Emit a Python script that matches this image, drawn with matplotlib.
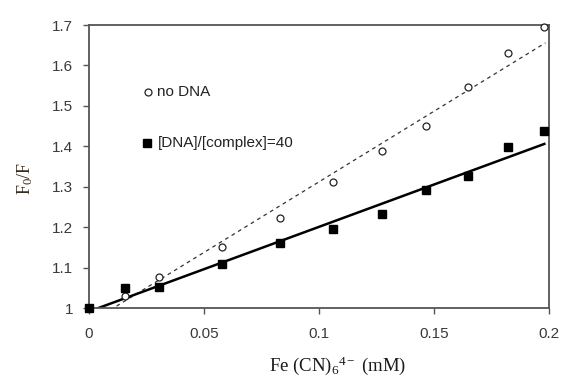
import matplotlib.pyplot as plt

plt.rcParams['mathtext.fontset'] = 'custom'
plt.rcParams['mathtext.rm'] = 'Liberation Serif'
plt.rcParams['mathtext.it'] = 'Liberation Serif:italic'

# data
conc = [0, 0.0156, 0.0303, 0.0580, 0.0830, 0.1062, 0.1274, 0.1467, 0.1646, 0.1821, 0.1978]
no_dna = [1.0, 1.030, 1.078, 1.151, 1.224, 1.312, 1.389, 1.451, 1.546, 1.630, 1.694]
with_dna = [1.0, 1.051, 1.052, 1.110, 1.161, 1.195, 1.232, 1.291, 1.327, 1.398, 1.437]

# fitted lines (end points)
fit_no_x = [0.012, 0.1985]
fit_no_y = [1.005, 1.656]
fit_dna_x = [0.004, 0.198]
fit_dna_y = [1.0, 1.406]

xticks = [0, 0.05, 0.1, 0.15, 0.2]
xtick_labels = ['0', '0.05', '0.1', '0.15', '0.2']
yticks = [1, 1.1, 1.2, 1.3, 1.4, 1.5, 1.6, 1.7]
ytick_labels = ['1', '1.1', '1.2', '1.3', '1.4', '1.5', '1.6', '1.7']

fig = plt.figure(figsize=(5.63, 3.79), dpi=100)
ax = fig.add_axes([0.158, 0.187, 0.817, 0.747])

ax.plot(fit_no_x, fit_no_y, color='#333333', linestyle=(0, (3, 3)), linewidth=0.9)
ax.plot(fit_dna_x, fit_dna_y, color='black', linewidth=1.8)
ax.plot(conc, no_dna, linestyle='none', marker='o', markersize=5,
        markerfacecolor='white', markeredgecolor='#222222', markeredgewidth=0.9,
        clip_on=False, zorder=3)
ax.plot(conc, with_dna, linestyle='none', marker='s', markersize=6,
        markerfacecolor='black', markeredgecolor='black', clip_on=False, zorder=4)

ax.set_xlim(0, 0.2)
ax.set_ylim(1, 1.7)
ax.set_xticks(xticks)
ax.set_xticklabels(xtick_labels)
ax.set_yticks(yticks)
ax.set_yticklabels(ytick_labels)

for s in ax.spines.values():
    s.set_color('#555555')
    s.set_linewidth(1.3)

ax.tick_params(direction='out', length=4.5, width=1, color='#555555',
               labelsize=11, labelcolor='#3a3a3a')
ax.tick_params(axis='x', pad=9)
ax.tick_params(axis='y', pad=7)
for lab in ax.get_xticklabels() + ax.get_yticklabels():
    lab.set_family('Liberation Sans')

# legend drawn as text inside the plot
ax.plot([0.0257], [1.534], marker='o', markersize=5, markerfacecolor='white',
        markeredgecolor='#222222', markeredgewidth=0.9, linestyle='none')
ax.text(0.0298, 1.534, 'no DNA', fontsize=11, family='Liberation Sans',
        va='center', ha='left', color='#222222')
ax.plot([0.0252], [1.408], marker='s', markersize=6, color='black', linestyle='none')
ax.text(0.0298, 1.408, '[DNA]/[complex]=40', fontsize=11, family='Liberation Sans',
        va='center', ha='left', color='#222222')

fig.text(338 / 563, 1 - 366 / 379, r'Fe (CN)$_6$$^{\mathrm{4-}}$ (mM)', fontsize=13.5,
         family='Liberation Serif', ha='center', va='center', color='#1a1a1a')
fig.text(25 / 563, 1 - 178 / 379, r'F$_0$/F', fontsize=13, family='Liberation Serif',
         color='#3a2a1a', rotation=90, ha='center', va='center')

fig.savefig('out.png', dpi=100)
